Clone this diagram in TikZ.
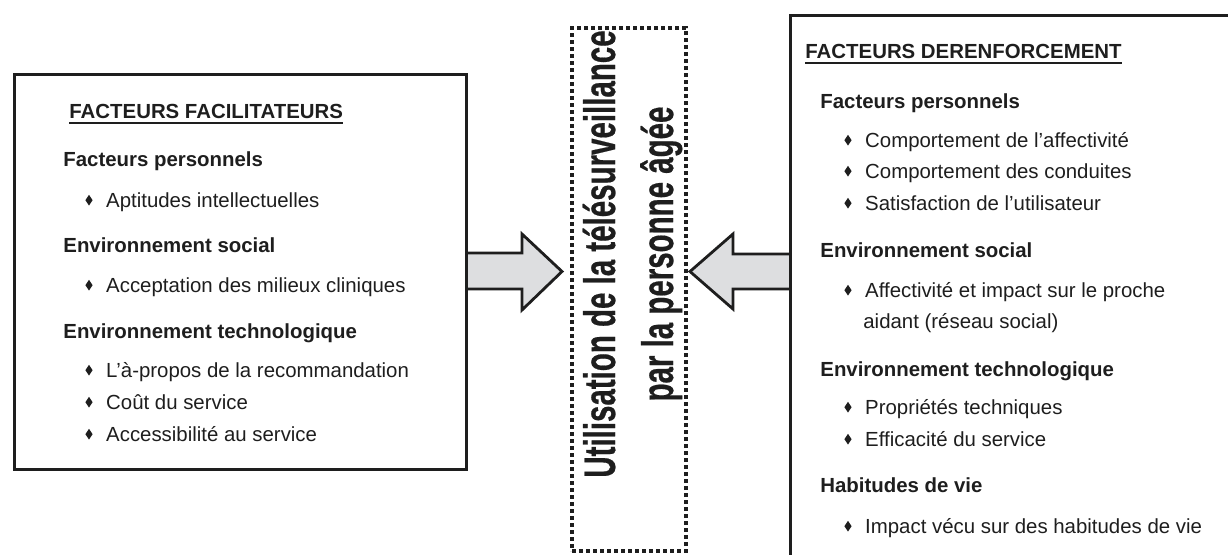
\documentclass[tikz,border=0pt]{standalone}
\usepackage{fontspec}
\setmainfont{Liberation Sans}
\definecolor{arrowgray}{RGB}{221,222,224}
\definecolor{ink}{RGB}{30,30,30}
\newcommand{\bul}{\tikz[baseline=0pt]\fill[ink] (0pt,3.4pt)--(1.8pt,6.1pt)--(3.6pt,3.4pt)--(1.8pt,0.7pt)--cycle;\hspace{6.8pt}}
\begin{document}
\begin{tikzpicture}[x=0.5pt,y=-0.5pt,
  txt/.style={anchor=base west, inner sep=0pt, text=ink, font=\fontsize{10.2}{12}\selectfont},
  head/.style={anchor=base west, inner sep=0pt, text=ink, font=\fontsize{10.2}{12}\selectfont\bfseries},
  boxline/.style={draw=ink, line width=1.4pt, inner sep=0pt, anchor=north west},
  dotbox/.style={draw=ink, line width=2pt, dash pattern=on 2.2pt off 1.3pt, inner sep=0pt, anchor=north west},
  blockarrow/.style={draw=ink, line width=1.4pt, fill=arrowgray, line join=miter},
  bigtxt/.style={anchor=base, inner sep=0pt, rotate=90, text=ink, font=\fontsize{22}{26}\selectfont\bfseries\addfontfeature{FakeBold=0.6}},
  uline/.style={draw=ink, line width=1pt}
]
\clip (0,0) rectangle (1228,554);
\fill[white] (0,0) rectangle (1228,554);

% block arrows
\coordinate (la0) at (465,253);
\coordinate (la1) at (522,253);
\coordinate (la2) at (522,234);
\coordinate (latip) at (562,271.5);
\coordinate (la3) at (522,310);
\coordinate (la4) at (522,289);
\coordinate (la5) at (465,289);
\draw[blockarrow] (la0) -- (la1) -- (la2) -- (latip) -- (la3) -- (la4) -- (la5);
\coordinate (ra0) at (789,254);
\coordinate (ra1) at (733,254);
\coordinate (ra2) at (733,234);
\coordinate (ratip) at (690,271.5);
\coordinate (ra3) at (733,309);
\coordinate (ra4) at (733,289);
\coordinate (ra5) at (789,289);
\draw[blockarrow] (ra0) -- (ra1) -- (ra2) -- (ratip) -- (ra3) -- (ra4) -- (ra5);

% boxes
\node[boxline, minimum width=226pt, minimum height=197.5pt] (L) at (13,73) {};
\node[boxline, minimum width=231pt, minimum height=284pt] (R) at (789,14) {};
\node[dotbox, minimum width=57pt, minimum height=261.5pt] (C) at (570,26) {};

% centre text
\node[bigtxt] (c1) at (615,254) {\scalebox{0.67}[1]{Utilisation de la télésurveillance}};
\node[bigtxt] (c2) at (673,254) {\scalebox{0.67}[1]{par la personne âgée}};

% left box text
\node[head] (lt) at (69,118) {FACTEURS FACILITATEURS};
\draw[uline] ([yshift=-2.4pt]lt.base west) -- ([yshift=-2.4pt]lt.base east);
\node[head] (lh1) at (63,166) {Facteurs personnels};
\node[txt] (lb1) at (85,207) {\bul Aptitudes intellectuelles};
\node[head] (lh2) at (63,252) {Environnement social};
\node[txt] (lb2) at (85,292) {\bul Acceptation des milieux cliniques};
\node[head] (lh3) at (63,338) {Environnement technologique};
\node[txt] (lb3) at (85,377) {\bul L’à-propos de la recommandation};
\node[txt] (lb4) at (85,409) {\bul Coût du service};
\node[txt] (lb5) at (85,441) {\bul Accessibilité au service};

% right box text
\node[head] (rt) at (805,58) {FACTEURS DERENFORCEMENT};
\draw[uline] ([yshift=-2.4pt]rt.base west) -- ([yshift=-2.4pt]rt.base east);
\node[head] (rh1) at (820,108) {Facteurs personnels};
\node[txt] (rb1) at (844,147) {\bul Comportement de l’affectivité};
\node[txt] (rb2) at (844,178) {\bul Comportement des conduites};
\node[txt] (rb3) at (844,210) {\bul Satisfaction de l’utilisateur};
\node[head] (rh2) at (820,257) {Environnement social};
\node[txt] (rb4) at (844,297) {\bul Affectivité et impact sur le proche};
\node[txt] (rb4b) at (863,328) {aidant (réseau social)};
\node[head] (rh3) at (820,376) {Environnement technologique};
\node[txt] (rb5) at (844,414) {\bul Propriétés techniques};
\node[txt] (rb6) at (844,446) {\bul Efficacité du service};
\node[head] (rh4) at (820,492) {Habitudes de vie};
\node[txt] (rb7) at (844,533) {\bul Impact vécu sur des habitudes de vie};
\end{tikzpicture}
\end{document}
